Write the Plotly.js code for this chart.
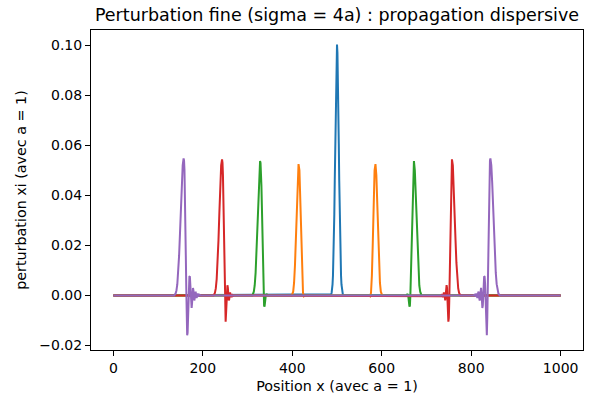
<!DOCTYPE html>
<html>
<head>
<meta charset="utf-8">
<script src="https://cdn.plot.ly/plotly-3.0.1.min.js"></script>
<style>html,body{margin:0;padding:0;background:#fff;}#chart{width:597px;height:398px;}</style>
</head>
<body>
<div id="chart"></div>
<script>
// Blue: t = 0 (initial gaussian, centre 500)
const xBlue = [0, 486, 487, 488, 489, 490, 491, 492, 493, 494, 495, 496, 497, 498, 499, 500, 501, 502, 503, 504, 505, 506, 507, 508, 509, 510, 511, 512, 513, 514, 1000];
const yBlue = [0, 0.0002, 0.0005, 0.0011, 0.0023, 0.0044, 0.0080, 0.0135, 0.0216, 0.0325, 0.0458, 0.0607, 0.0755, 0.0882, 0.0969, 0.1003, 0.0969, 0.0882, 0.0755, 0.0607, 0.0458, 0.0325, 0.0216, 0.0135, 0.0080, 0.0044, 0.0023, 0.0011, 0.0005, 0.0002, 0];

// Orange
const xOrange = [0, 399, 402, 404, 406, 408, 410, 412, 414, 416, 418, 420, 422, 424, 426, 428,
  572, 574, 576, 578, 580, 582, 584, 586, 588, 590, 592, 594, 596, 598, 601, 1000];
const yOrange = [0, 0, 0.0015, 0.005, 0.012, 0.024, 0.037, 0.048, 0.0525, 0.050, 0.038, 0.021, 0.008, 0.001, -0.0003, 0,
  0, -0.0003, 0.001, 0.008, 0.021, 0.038, 0.050, 0.0525, 0.048, 0.037, 0.024, 0.012, 0.005, 0.0015, 0, 0];

// Green
const xGreen = [0, 311, 314, 316, 318, 320, 322, 324, 326, 328, 329, 330, 331, 332, 333, 334, 335, 336, 337, 338, 339, 340, 341, 343, 345,
  655, 657, 659, 660, 661, 662, 663, 664, 665, 666, 667, 668, 669, 670, 671, 672, 674, 676, 678, 680, 682, 684, 686, 689, 1000];
const yGreen = [0, 0, 0.0015, 0.004, 0.009, 0.018, 0.029, 0.041, 0.050, 0.0537, 0.053, 0.050, 0.044, 0.036, 0.026, 0.016, 0.007, 0, -0.004, -0.0045, -0.003, -0.001, 0.0003, 0.0004, 0,
  0, 0.0004, 0.0003, -0.001, -0.003, -0.0045, -0.004, 0, 0.007, 0.016, 0.026, 0.036, 0.044, 0.050, 0.053, 0.0537, 0.050, 0.041, 0.029, 0.018, 0.009, 0.004, 0.0015, 0, 0];

// Red
const xRed = [0, 224, 227, 229, 231, 233, 235, 237, 239, 241, 243, 244, 245, 246, 247, 248, 249, 250, 251, 252, 253, 254, 255, 256, 257, 258, 259, 260, 261, 262, 263, 265, 267, 270,
  730, 733, 735, 737, 738, 739, 740, 741, 742, 743, 744, 745, 746, 747, 748, 749, 750, 751, 752, 753, 754, 755, 756, 757, 759, 761, 763, 765, 767, 769, 771, 773, 776, 1000];
const yRed = [0, 0, 0.001, 0.0028, 0.0065, 0.013, 0.022, 0.033, 0.044, 0.052, 0.0544, 0.053, 0.048, 0.038, 0.024, 0.010, -0.002, -0.009, -0.0105, -0.007, -0.001, 0.003, 0.0041, 0.003, 0, -0.002, -0.0015, 0.0005, 0.0012, 0.0003, -0.0007, 0.0005, -0.0003, 0,
  0, -0.0003, 0.0005, -0.0007, 0.0003, 0.0012, 0.0005, -0.0015, -0.002, 0, 0.003, 0.0041, 0.003, -0.001, -0.007, -0.0105, -0.009, -0.002, 0.010, 0.024, 0.038, 0.048, 0.053, 0.0544, 0.052, 0.044, 0.033, 0.022, 0.013, 0.0065, 0.0028, 0.001, 0, 0];

// Purple
const xPurple = [0, 136, 139, 141, 143, 145, 147, 149, 151, 153, 155, 157, 158, 159, 160, 161, 162, 163, 164, 165, 166, 167, 168, 169, 170, 171, 172, 173, 174, 175, 176, 177, 178, 179, 180, 181, 182, 183, 184, 185, 186, 187, 188, 189, 190, 192, 195,
  805, 808, 810, 811, 812, 813, 814, 815, 816, 817, 818, 819, 820, 821, 822, 823, 824, 825, 826, 827, 828, 829, 830, 831, 832, 833, 834, 835, 836, 837, 838, 839, 840, 841, 842, 843, 845, 847, 849, 851, 853, 855, 857, 859, 861, 864, 1000];
const yPurple = [0, 0, 0.0007, 0.002, 0.0045, 0.009, 0.016, 0.025, 0.035, 0.045, 0.052, 0.0548, 0.054, 0.050, 0.042, 0.030, 0.016, 0.003, -0.009, -0.0159, -0.015, -0.009, -0.001, 0.005, 0.0075, 0.0077, 0.004, -0.001, -0.004, -0.005, -0.003, 0.001, 0.003, 0.002, -0.001, -0.002, -0.001, 0.001, 0.0015, 0, -0.001, -0.0005, 0.0008, 0.0004, -0.0005, 0.0003, 0,
  0, 0.0003, -0.0005, 0.0004, 0.0008, -0.0005, -0.001, 0, 0.0015, 0.001, -0.001, -0.002, -0.001, 0.002, 0.003, 0.001, -0.003, -0.005, -0.004, -0.001, 0.004, 0.0077, 0.0075, 0.005, -0.001, -0.009, -0.015, -0.0159, -0.009, 0.003, 0.016, 0.030, 0.042, 0.050, 0.054, 0.0548, 0.052, 0.045, 0.035, 0.025, 0.016, 0.009, 0.0045, 0.002, 0.0007, 0, 0];

const titleText = "Perturbation fine (sigma = 4a) : propagation dispersive";
const xTitle = "Position x (avec a = 1)";
const yTitle = "perturbation xi (avec a = 1)";
const xTicks = [0, 200, 400, 600, 800, 1000];
const yTicks = [-0.02, 0.00, 0.02, 0.04, 0.06, 0.08, 0.10];

const series = [
  {x: xBlue, y: yBlue, c: '#1f77b4'},
  {x: xOrange, y: yOrange, c: '#ff7f0e'},
  {x: xGreen, y: yGreen, c: '#2ca02c'},
  {x: xRed, y: yRed, c: '#d62728'},
  {x: xPurple, y: yPurple, c: '#9467bd'}
];
const traces = series.map(s => ({x: s.x, y: s.y, type: 'scatter', mode: 'lines', line: {color: s.c, width: 2}, hoverinfo: 'skip'}));

const font = "DejaVu Sans, sans-serif";
const axisCommon = {
  showgrid: false, zeroline: false, showline: true, mirror: true,
  linecolor: '#000', linewidth: 1, ticks: 'outside', ticklen: 5, tickwidth: 1, tickcolor: '#000',
  tickfont: {family: font, size: 14, color: '#000'}
};
const layout = {
  width: 597, height: 398,
  margin: {l: 91, r: 14, t: 30, b: 48},
  paper_bgcolor: '#fff', plot_bgcolor: '#fff',
  showlegend: false,
  title: {text: titleText, font: {family: font, size: 17.5, color: '#000'}, x: 0.5645, xanchor: 'center', y: 0.962, yanchor: 'middle'},
  xaxis: Object.assign({}, axisCommon, {range: [-50, 1050], tickvals: xTicks, ticktext: xTicks.map(String),
    title: {text: xTitle, font: {family: font, size: 14.3, color: '#000'}, standoff: 6}}),
  yaxis: Object.assign({}, axisCommon, {range: [-0.0218, 0.1061], tickvals: yTicks, ticktext: yTicks.map(v => (v < 0 ? '\u2212' : '') + Math.abs(v).toFixed(2)),
    title: {text: yTitle, font: {family: font, size: 14.3, color: '#000'}, standoff: 9}})
};
Plotly.newPlot('chart', traces, layout, {staticPlot: true, displayModeBar: false});
</script>
</body>
</html>
